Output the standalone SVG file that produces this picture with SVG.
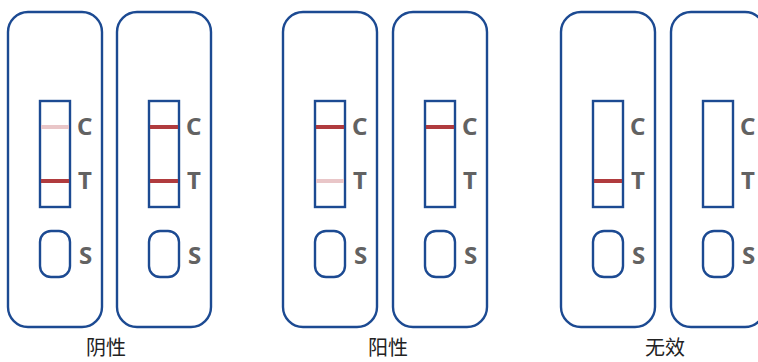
<svg xmlns="http://www.w3.org/2000/svg" width="758" height="362" viewBox="0 0 758 362">
<style>
.card{fill:#fff;stroke:#1c4a92;stroke-width:2.4}
.win{fill:#fff;stroke:#1c4a92;stroke-width:2.4}
.line{stroke:#b03b3e;stroke-width:4}
.faint{stroke:#e9c6c8;stroke-width:4}
.lab{font-family:"Noto Sans","Liberation Sans",sans-serif;font-weight:bold;font-size:24px;fill:#626262}
.cap{font-family:"Noto Sans CJK SC",sans-serif;font-size:20px;fill:#222;text-anchor:middle}
</style>
<defs>
<g id="strip">
<rect class="card" x="0" y="12" width="94" height="315" rx="20"/>
<rect class="win" x="32" y="101" width="30" height="106"/>
<rect class="win" x="32" y="231" width="30" height="46" rx="11"/>
<text class="lab" x="69" y="134.5">C</text>
<text class="lab" x="70" y="189">T</text>
<text class="lab" x="71" y="264">S</text>
</g>
</defs>
<g id="card1" transform="translate(8,0)"><use href="#strip"/><line class="faint" x1="33" y1="127" x2="61" y2="127"/><line class="line" x1="33" y1="181" x2="61" y2="181"/></g>
<g id="card2" transform="translate(117,0)"><use href="#strip"/><line class="line" x1="33" y1="127" x2="61" y2="127"/><line class="line" x1="33" y1="181" x2="61" y2="181"/></g>
<g id="card3" transform="translate(283,0)"><use href="#strip"/><line class="line" x1="33" y1="127" x2="61" y2="127"/><line class="faint" x1="33" y1="181" x2="61" y2="181"/></g>
<g id="card4" transform="translate(393,0)"><use href="#strip"/><line class="line" x1="33" y1="127" x2="61" y2="127"/></g>
<g id="card5" transform="translate(561,0)"><use href="#strip"/><line class="line" x1="33" y1="181" x2="61" y2="181"/></g>
<g id="card6" transform="translate(671,0)"><use href="#strip"/></g>
<g id="captions">
<text class="cap" x="106" y="355">阴性</text>
<text class="cap" x="388" y="355">阳性</text>
<text class="cap" x="665" y="355">无效</text>
</g>
</svg>
